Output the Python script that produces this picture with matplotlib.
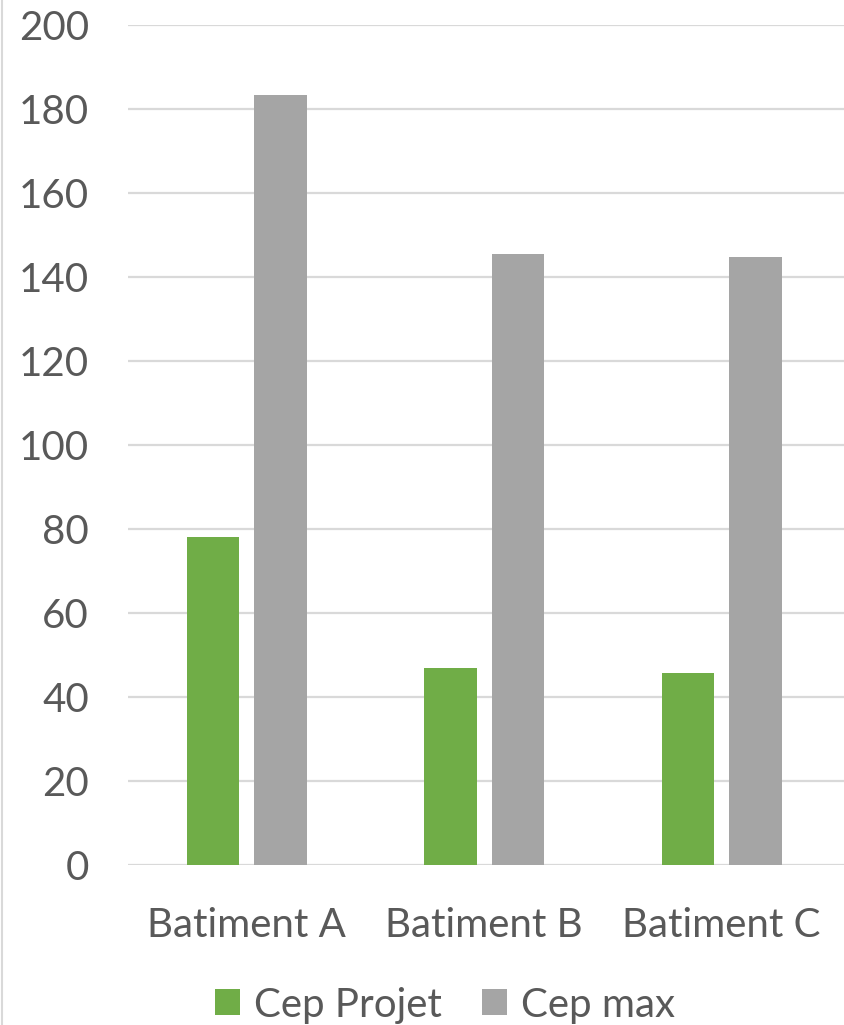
import numpy as np
import matplotlib
matplotlib.use("Agg")
import matplotlib.pyplot as plt
from matplotlib.lines import Line2D

categories = ["Batiment A", "Batiment B", "Batiment C"]
cep_projet = [78.2, 46.8, 45.8]
cep_max = [183.4, 145.5, 144.8]
series_names = ["Cep Projet", "Cep max"]

plt.rcParams["font.family"] = ["Lato", "DejaVu Sans"]
text_color = "#595959"

fig = plt.figure(figsize=(8.44, 10.25), dpi=100)
ax = fig.add_axes([128 / 844, 1 - 865 / 1025, 1 - 128 / 844, 840 / 1025])

x = np.arange(len(categories))
w = 0.22
off = 0.142
ax.bar(x - off, cep_projet, w, color="#70AD47", label=series_names[0], zorder=3)
ax.bar(x + off, cep_max, w, color="#A5A5A5", label=series_names[1], zorder=3)

ax.set_xlim(-0.5, 2.515)
ax.set_ylim(0, 200)
ax.set_yticks(range(0, 201, 20))
ax.yaxis.grid(True, color="#D9D9D9", linewidth=1.6, zorder=0)
ax.set_axisbelow(True)
for s in ax.spines.values():
    s.set_visible(False)
ax.tick_params(axis="both", length=0, labelsize=29, colors=text_color)
ax.tick_params(axis="y", pad=28)
ax.tick_params(axis="x", pad=30)
ax.set_xticks(x)
ax.set_xticklabels(categories)

fig.legend(loc="center", bbox_to_anchor=(445 / 844, 1 - 1005 / 1025), ncol=2,
           frameon=False, fontsize=29, handlelength=0.62, handleheight=0.62,
           handletextpad=0.35, columnspacing=1.0, labelcolor=text_color)

# thin frame edge on the left
fig.add_artist(Line2D([2 / 844, 2 / 844], [0, 1], color="#D9D9D9", linewidth=1.5))

fig.savefig("out.png", dpi=100)
